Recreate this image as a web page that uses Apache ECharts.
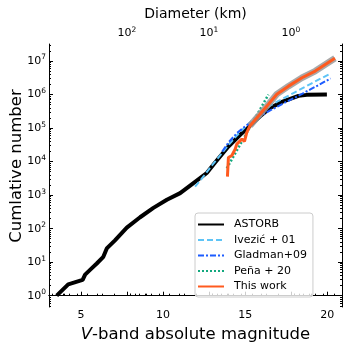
<!DOCTYPE html>
<html>
<head>
<meta charset="utf-8">
<script src="https://cdn.jsdelivr.net/npm/echarts@6/dist/echarts.min.js"></script>
<style>
  html, body { margin: 0; padding: 0; background: #fff; }
  #chart { width: 350px; height: 350px; }
</style>
</head>
<body>
<div id="chart"></div>
<script>
// cumulative counts, stored as log10(N)
var astorbH = [3.52, 4.22, 5.1, 5.25, 5.55, 5.96, 6.36, 6.57, 7.07, 7.79, 8.6, 9.41, 10.23, 11.04, 11.85, 12.66, 13.17, 13.98, 14.7, 15.2, 15.91, 16.52, 17.24, 18.25, 18.76, 19.98];
var astorbLogN = [0, 0.34, 0.47, 0.63, 0.77, 0.96, 1.16, 1.41, 1.65, 2.03, 2.34, 2.62, 2.86, 3.06, 3.36, 3.66, 3.97, 4.45, 4.8, 5.02, 5.35, 5.6, 5.78, 5.96, 5.99, 6.0];

var ivezicH = [11.95, 12.5, 13.0, 13.5, 14.0, 14.5, 15.0, 15.5, 16.0, 16.5, 17.0, 17.5, 18.0, 18.5, 19.0, 19.5, 20.2];
var ivezicLogN = [3.25, 3.58, 3.9, 4.2, 4.5, 4.78, 5.03, 5.27, 5.48, 5.66, 5.8, 5.93, 6.06, 6.19, 6.32, 6.45, 6.62];

var gladmanH = [13.6, 14.0, 14.5, 15.0, 15.5, 16.0, 16.5, 17.0, 17.5, 18.0, 18.5, 19.0, 19.5, 20.2];
var gladmanLogN = [4.3, 4.58, 4.85, 5.05, 5.22, 5.38, 5.52, 5.65, 5.78, 5.9, 6.03, 6.16, 6.29, 6.48];

var penaH = [13.88, 16.42];
var penaLogN = [3.8, 6.0];

var thisWorkH = [13.92, 13.98, 14.19, 14.39, 14.49, 14.8, 14.96, 15.1, 15.3, 15.81, 16.42, 16.93, 17.64, 18.46, 19.27, 20.47];
var thisWorkLogN = [3.55, 4.12, 4.18, 4.37, 4.52, 4.67, 4.6, 4.87, 5.07, 5.36, 5.71, 6.01, 6.25, 6.5, 6.7, 7.08];

var magTicks = [5, 10, 15, 20];
var magMinor = [4, 6, 7, 8, 9, 11, 12, 13, 14, 16, 17, 18, 19];
var logTicks = [0, 1, 2, 3, 4, 5, 6, 7];
var diamExp = [2, 1, 0];      // top axis: 10^2, 10^1, 10^0 km
var H_D1 = 17.79;             // magnitude where D = 1 km

var FONT = 'DejaVu Sans';

function pairs(xs, ys, from) {
  var out = [];
  xs.forEach(function (x, i) { if (from === undefined || x >= from) out.push([x, ys[i]]); });
  return out;
}

// minor tick positions (log spacing)
var logMinor = [];
for (var n = -1; n <= 7; n++) {
  for (var k = 2; k <= 9; k++) {
    var v = n + Math.log10(k);
    if (v > -0.337 && v < 7.507) logMinor.push(v);
  }
}
var diamMajorH = diamExp.map(function (e) { return H_D1 - 5 * e; });
var diamMinorH = [];
for (var e = -1; e <= 2; e++) {
  for (var k2 = 2; k2 <= 9; k2++) {
    var h = H_D1 - 5 * (e + Math.log10(k2));
    if (h > 3.05 && h < 20.9) diamMinorH.push(h);
  }
}

var rich = {
  b: { fontSize: 11, fontFamily: FONT, color: '#000' },
  s: { fontSize: 7.5, fontFamily: FONT, color: '#000', padding: [0, 0, 7, 0] }
};

var xMin = 3.05, xMax = 20.9, yMin = -0.337, yMax = 7.507;
var black = { lineStyle: { color: '#000', width: 1 } };

var chart = echarts.init(document.getElementById('chart'));
chart.setOption({
  animation: false,
  backgroundColor: '#fff',
  grid: { left: 49, right: 8, top: 44, bottom: 43, containLabel: false },
  xAxis: [
    {
      type: 'value', position: 'bottom', min: xMin, max: xMax,
      axisLine: black,
      splitLine: { show: false },
      axisTick: { inside: true, length: 4, customValues: magTicks, lineStyle: { color: '#000' } },
      axisLabel: { customValues: magTicks, margin: 3, fontSize: 11, fontFamily: FONT, color: '#000' },
      name: '{i|V}-band absolute magnitude',
      nameLocation: 'middle', nameGap: 14,
      nameTextStyle: {
        fontSize: 16.5, fontFamily: FONT, color: '#000', verticalAlign: 'top',
        rich: { i: { fontSize: 16.5, fontFamily: FONT, fontStyle: 'italic', color: '#000' } }
      }
    },
    {
      type: 'value', position: 'bottom', min: xMin, max: xMax,
      axisLine: { show: false }, splitLine: { show: false }, axisLabel: { show: false },
      axisTick: { inside: true, length: 2, customValues: magMinor, lineStyle: { color: '#000' } }
    },
    {
      type: 'value', position: 'top', min: xMin, max: xMax,
      axisLine: black, splitLine: { show: false },
      axisTick: { inside: false, length: 4, customValues: diamMajorH, lineStyle: { color: '#000' } },
      axisLabel: {
        customValues: diamMajorH, margin: 3, rich: rich,
        formatter: function (v) { return '{b|10}{s|' + Math.round((H_D1 - v) / 5) + '}'; }
      },
      name: 'Diameter (km)', nameLocation: 'middle', nameGap: 20,
      nameTextStyle: { fontSize: 14, fontFamily: FONT, color: '#000' }
    },
    {
      type: 'value', position: 'top', min: xMin, max: xMax,
      axisLine: { show: false }, splitLine: { show: false }, axisLabel: { show: false },
      axisTick: { inside: false, length: 2, customValues: diamMinorH, lineStyle: { color: '#000' } }
    }
  ],
  yAxis: [
    {
      type: 'value', position: 'left', min: yMin, max: yMax,
      axisLine: black, splitLine: { show: false },
      axisTick: { inside: true, length: 4, customValues: logTicks, lineStyle: { color: '#000' } },
      axisLabel: {
        customValues: logTicks, margin: 3, rich: rich,
        formatter: function (v) { return '{b|10}{s|' + Math.round(v) + '}'; }
      }
    },
    {
      type: 'value', position: 'left', min: yMin, max: yMax,
      axisLine: { show: false }, splitLine: { show: false }, axisLabel: { show: false },
      axisTick: { inside: true, length: 2, customValues: logMinor, lineStyle: { color: '#000' } }
    },
    {
      type: 'value', position: 'right', min: yMin, max: yMax,
      axisLine: black, splitLine: { show: false }, axisLabel: { show: false },
      axisTick: { inside: true, length: 4, customValues: logTicks, lineStyle: { color: '#000' } }
    },
    {
      type: 'value', position: 'right', min: yMin, max: yMax,
      axisLine: { show: false }, splitLine: { show: false }, axisLabel: { show: false },
      axisTick: { inside: true, length: 2, customValues: logMinor, lineStyle: { color: '#000' } }
    }
  ],
  graphic: [{
    type: 'text', x: 17, y: 166, rotation: Math.PI / 2,
    style: {
      text: 'Cumlative number', fontSize: 16.5, fontFamily: FONT, fill: '#000',
      align: 'center', verticalAlign: 'middle'
    }
  }],
  legend: {
    orient: 'vertical', left: 195, top: 213,
    padding: [6, 6, 5, 2], itemGap: 4.5, itemWidth: 26, itemHeight: 12,
    borderColor: '#cccccc', borderWidth: 1, borderRadius: 3,
    backgroundColor: 'rgba(255,255,255,0.8)',
    itemStyle: { opacity: 0, borderWidth: 0 },
    textStyle: { fontSize: 11, fontFamily: FONT, color: '#000', padding: [0, 0, 0, 5] },
    data: ['ASTORB', 'Ivezić + 01', 'Gladman+09', 'Peña + 20', 'This work']
  },
  series: [
    {
      name: 'ASTORB', type: 'line', symbol: 'none', z: 2,
      data: pairs(astorbH, astorbLogN),
      lineStyle: { color: '#000', width: 4 }, itemStyle: { color: '#000' }
    },
    {
      name: 'Ivezić + 01', type: 'line', symbol: 'none', z: 3,
      data: pairs(ivezicH, ivezicLogN),
      lineStyle: { color: '#5ec4f6', width: 2, type: [6, 3] }, itemStyle: { color: '#5ec4f6' }
    },
    {
      name: 'Gladman+09', type: 'line', symbol: 'none', z: 3,
      data: pairs(gladmanH, gladmanLogN),
      lineStyle: { color: '#1d5cff', width: 2, type: [6, 2, 2, 2] }, itemStyle: { color: '#1d5cff' }
    },
    {
      name: 'Peña + 20', type: 'line', symbol: 'none', z: 3,
      data: pairs(penaH, penaLogN),
      lineStyle: { color: '#12a87e', width: 2.5, type: [2, 2] }, itemStyle: { color: '#12a87e' }
    },
    {
      name: 'band', type: 'line', symbol: 'none', z: 4,
      data: pairs(thisWorkH, thisWorkLogN, 15.3),
      lineStyle: { color: '#9a9a9a', width: 6.5, opacity: 0.85 }
    },
    {
      name: 'This work', type: 'line', symbol: 'none', z: 5,
      data: pairs(thisWorkH, thisWorkLogN),
      lineStyle: { color: '#ff5a1f', width: 3 }, itemStyle: { color: '#ff5a1f' }
    }
  ]
});
</script>
</body>
</html>
